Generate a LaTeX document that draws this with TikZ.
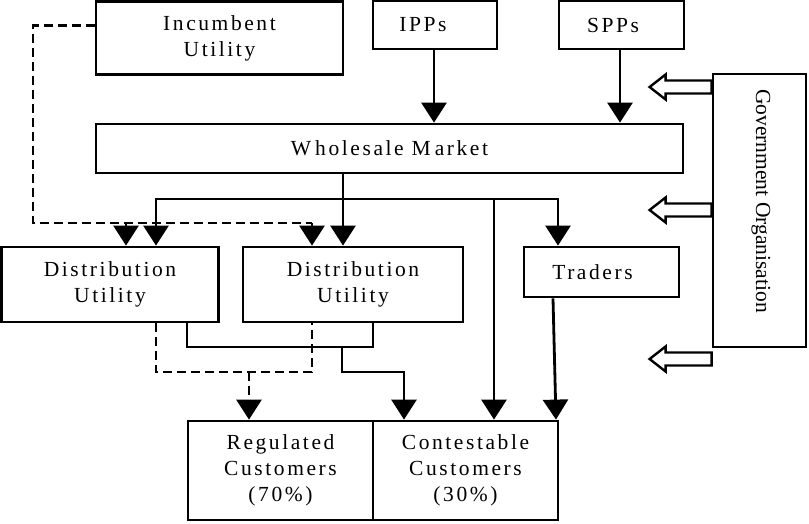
\documentclass[tikz,border=0pt]{standalone}
\usepackage{fontspec}
\setmainfont{Liberation Serif}
\newfontfamily\spcfont[LetterSpace=12]{Liberation Serif}
\usetikzlibrary{arrows.meta}
\begin{document}
\begin{tikzpicture}[x=1pt,y=-1pt,
  lw/.style={line width=2.8pt},
  box/.style={lw,draw,inner sep=0pt,align=center,font=\spcfont\fontsize{21.5}{26}\selectfont},
  arr/.style={lw,-{Triangle[width=25pt,length=20pt]}},
  dsh/.style={lw,dash pattern=on 9pt off 5pt},
  harrow/.pic={\draw[line width=2.4pt,fill=white] (0,-6.5) -- (-46,-6.5) -- (-46,-12.5) -- (-62,0) -- (-46,12.5) -- (-46,6.5) -- (0,6.5) -- cycle;}
]
\useasboundingbox (0,0) rectangle (809,523);
% nodes
\node[box,minimum width=247pt,minimum height=73pt] (inc) at (219.5,38) {Incumbent\\Utility};
\node[box,minimum width=124pt,minimum height=48pt] (ipp) at (435,25) {IPPs\kern24pt};
\node[box,minimum width=125pt,minimum height=48pt] (spp) at (621.5,25) {SPPs\kern17pt};
\node[box,minimum width=587pt,minimum height=49pt] (wm) at (389.5,148.5) {W\kern4pt holesale M\kern4pt arket};
\node[box,minimum width=217pt,minimum height=75pt] (du1) at (110,284.5) {Distribution\\Utility};
\node[box,minimum width=220pt,minimum height=75pt] (du2) at (353,284.5) {Distribution\\Utility};
\node[box,minimum width=155pt,minimum height=50pt] (tr) at (601.5,272) {Traders\kern18pt};
\node[box,minimum width=185pt,minimum height=99pt] (reg) at (280.5,470.5) {Regulated\\Customers\\(70\%)};
\node[box,minimum width=185pt,minimum height=99pt] (con) at (465.5,470.5) {Contestable\\Customers\\(30\%)};
\node[box,minimum width=93pt,minimum height=273pt] (gov) at (759.5,210.5) {};
\node[rotate=-90,inner sep=0pt,font=\fontsize{21.5}{26}\selectfont] (govt) at (761,201) {Government Organisation};
% junction coordinates
\coordinate (j1) at (343,199);
\coordinate (j2) at (494,199);
\coordinate (dl) at (33,223);
\coordinate (dr) at (312,223);
\coordinate (dm) at (126,223);
\coordinate (k1) at (249,372);
\coordinate (k2) at (342,347);
% top arrows
\draw[arr] ([xshift=-1pt]ipp.south) -- ([xshift=-1pt]ipp.south |- wm.north);
\draw[arr] ([xshift=-1.5pt]spp.south) -- ([xshift=-1.5pt]spp.south |- wm.north);
% wholesale outputs
\draw[arr] ([xshift=-46.5pt]wm.south) -- ([xshift=-10pt]du2.north);
\draw[lw] (j1) -- (j2);
\draw[arr] (j1) -| ([xshift=46pt]du1.north);
\draw[arr] (j2) -| ([xshift=-43.5pt]tr.north);
\draw[arr] (j2) -- (j2 |- con.north);
% incumbent dashed
\draw[dsh] ([yshift=12.5pt]inc.west) -| (dl) -- (dr);
\draw[arr,dsh] (dm) -- ([xshift=16pt]du1.north);
\draw[arr,dsh] (dr) -- ([xshift=-41pt]du2.north);
% distribution outputs
\draw[dsh] ([xshift=46pt]du1.south) |- (k1) -| ([xshift=-41pt]du2.south);
\draw[arr,dsh] (k1) -- ([xshift=-31.5pt]reg.north);
\draw[lw] ([xshift=77pt]du1.south) |- (k2) -| ([xshift=20pt]du2.south);
\draw[arr] (k2) -- (342,372) -| ([xshift=-61.5pt]con.north);
% traders
\draw[arr] ([xshift=-48.5pt]tr.south) -- ([xshift=90.5pt]con.north);
% government hollow arrows
\pic at (gov.west |- 0,87) {harrow};
\pic at (gov.west |- 0,210) {harrow};
\pic at (gov.west |- 0,359) {harrow};
\end{tikzpicture}
\end{document}
